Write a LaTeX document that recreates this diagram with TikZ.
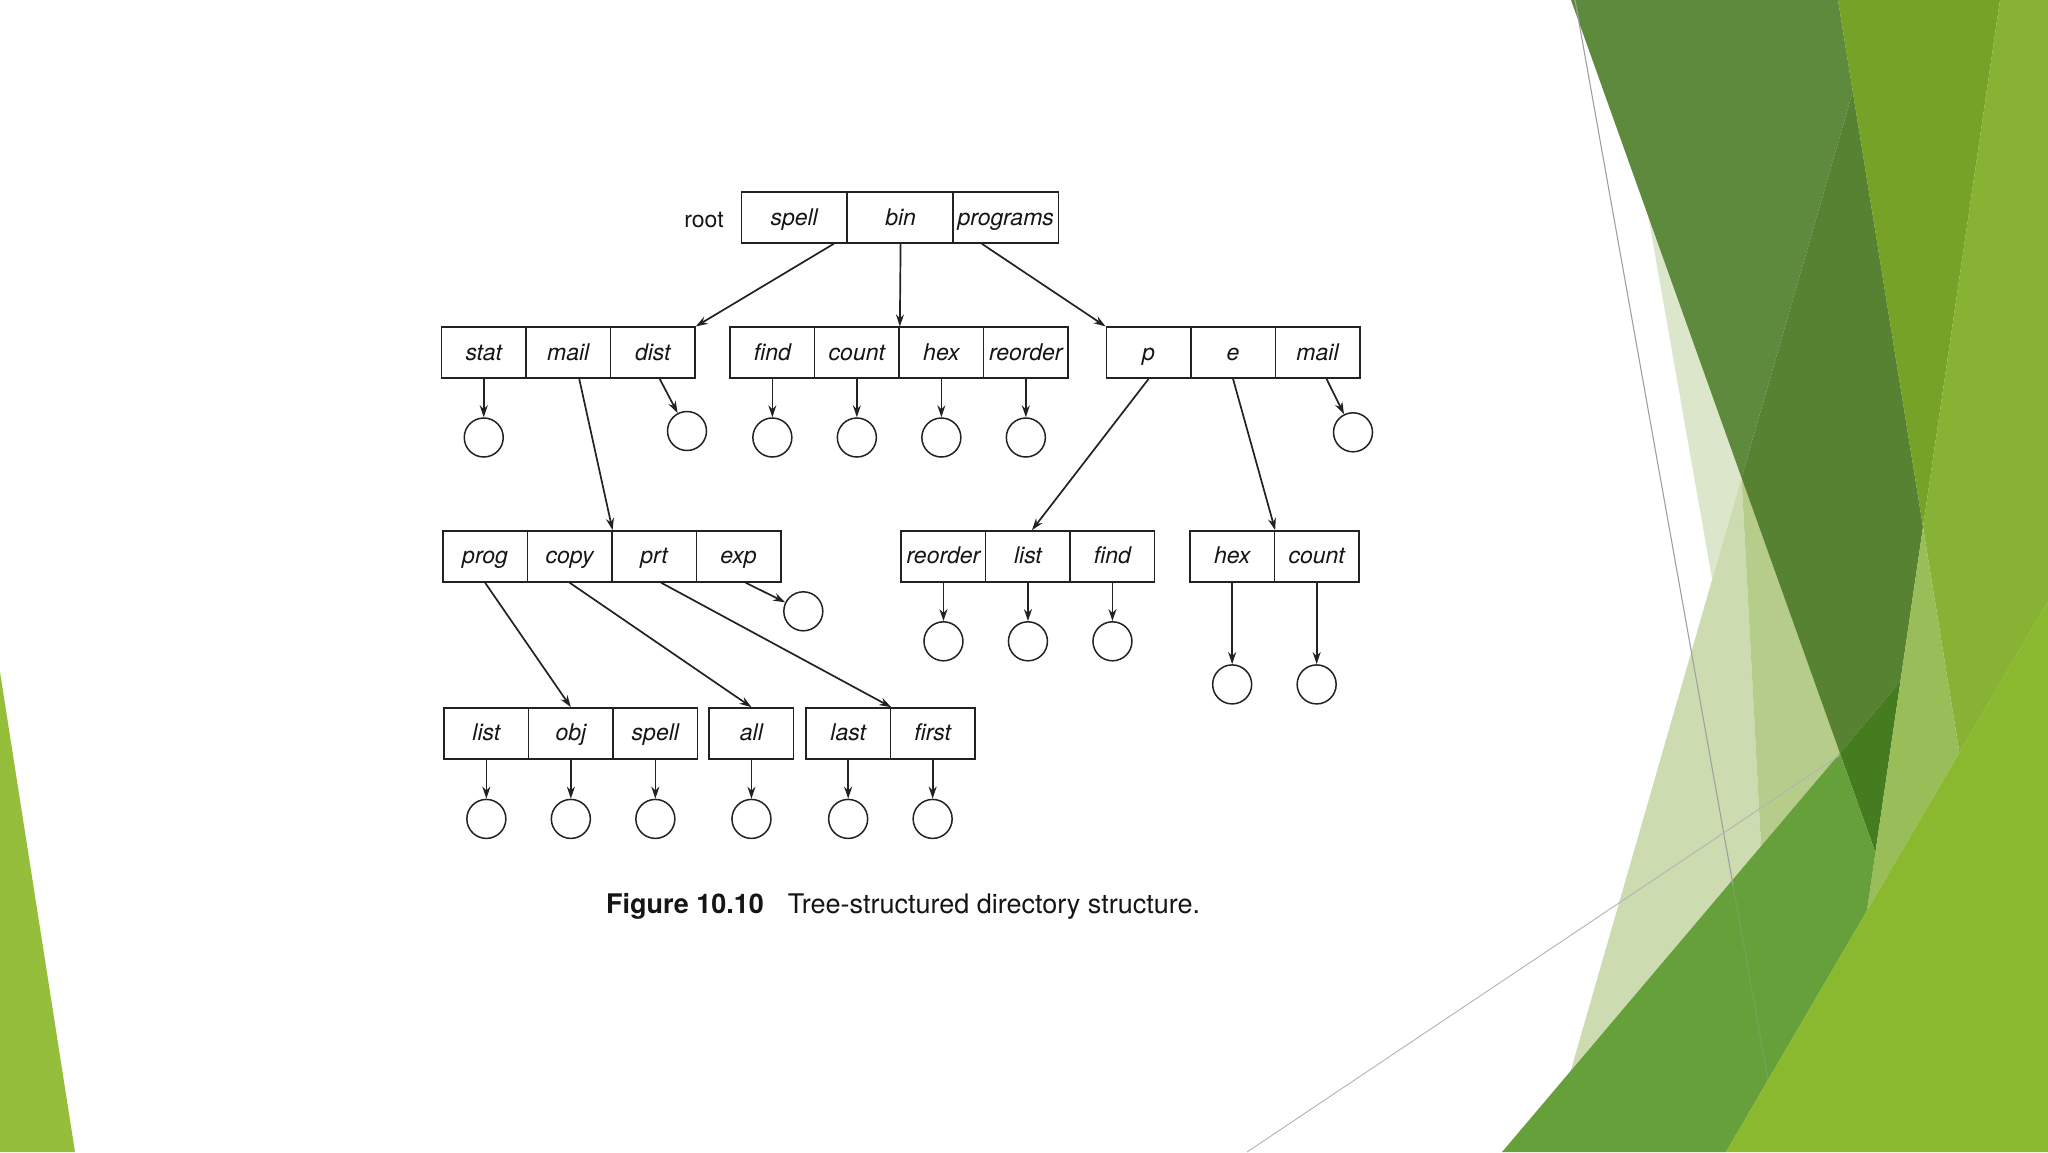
\documentclass[tikz,border=0pt]{standalone}
\usepackage{fontspec}
\setmainfont{TeX Gyre Heros}
\usetikzlibrary{arrows.meta}
\definecolor{linec}{HTML}{222222}
\definecolor{txt}{HTML}{151515}
\definecolor{gA}{HTML}{5E8A3E}
\definecolor{gB}{HTML}{568232}
\definecolor{gC}{HTML}{75A227}
\definecolor{gD}{HTML}{88B234}
\definecolor{gL}{HTML}{99BD58}
\definecolor{gG}{HTML}{66A03B}
\definecolor{gH}{HTML}{8AB82E}
\definecolor{gI}{HTML}{447C1F}
\definecolor{pS}{HTML}{DCE6CB}
\definecolor{pT}{HTML}{CDDBB1}
\definecolor{pM}{HTML}{B5CC8A}
\definecolor{gLeft}{HTML}{95BE3B}
\definecolor{hairc}{HTML}{A0A0A0}
\begin{document}
\begin{tikzpicture}[x=1pt,y=-1pt,
  cell/.style={draw=linec, line width=1.5pt, minimum height=51pt, minimum width=84.5pt,
    inner sep=0pt, text height=17.5pt, text depth=2.5pt,
    font=\fontsize{23}{26}\selectfont\itshape, text=txt},
  rcell/.style={cell, minimum width=105.8pt},
  leaf/.style={draw=linec, line width=1.5pt, circle, minimum size=39pt, inner sep=0pt},
  arr/.style={draw=linec, line width=1.7pt, -{Stealth[length=12pt,width=8pt]}},
  captxt/.style={anchor=base west, inner sep=0pt, text=txt}
]
\useasboundingbox (0,0) rectangle (2048,1152);
\fill[white] (0,0) rectangle (2048,1152);

% ---------- background facets ----------
\fill[gLeft] (0,672) -- (75,1152) -- (0,1152) -- cycle;

\fill[pS] (1648.3,216.6) -- (1712.2,579.5) -- (1741.5,477.7) -- cycle;
\fill[pT] (1741.5,477.7) -- (1570.7,1070.8) -- (1761,846.2) -- cycle;
\fill[pM] (1741.5,477.7) -- (1761,846.2) -- (1839.9,753.1) -- cycle;
\fill[gA] (1571,0) -- (1838,0) -- (1852.8,91.5) -- (1741.5,477.7) -- cycle;
\fill[gB] (1852.8,91.5) -- (1741.5,477.7) -- (1839.9,753.1) -- (1900.4,681.6) -- (1923,527) -- cycle;
\fill[gI] (1839.9,753.1) -- (1900.4,681.6) -- (1875.4,852.7) -- cycle;
\fill[gC] (1838,0) -- (2000,0) -- (1923,527) -- cycle;
\fill[gD] (2000,0) -- (2048,0) -- (2048,601.4) -- (1959.4,752.8) -- (1923,527) -- cycle;
\fill[gL] (1923,527) -- (1959.4,752.8) -- (1866.9,910.9) -- (1875.4,852.7) -- (1900.4,681.6) -- cycle;
\fill[gG] (1502,1152) -- (1839.9,753.1) -- (1875.4,852.7) -- (1866.9,910.9) -- (1725.9,1152) -- cycle;
\fill[gH] (2048,601.4) -- (2048,1152) -- (1725.9,1152) -- (1866.9,910.9) -- (1959.4,752.8) -- cycle;

\draw[draw=hairc, line width=1.1pt] (1575,0) -- (1733,885);
\draw[draw=hairc, opacity=0.3, line width=1.1pt] (1733,885) -- (1768,1080);
\draw[draw=hairc!80, line width=0.9pt] (1247,1152) -- (1840,755);

% ---------- root ----------
\node[font=\fontsize{23}{26}\selectfont, text=txt, anchor=base] (rootlbl) at (704,227) {root};
\node[rcell] (rspell) at (794.2,217.5) {spell};
\node[rcell] (rbin) at (900.6,217.5) {bin};
\node[rcell] (rprog) at (1005.8,217.5) {programs};

% ---------- level 2 ----------
\node[cell] (astat) at (483.75,352.7) {stat};
\node[cell] (amail) at (568.25,352.7) {mail};
\node[cell] (adist) at (652.75,352.7) {dist};
\node[cell] (bfind) at (772.35,352.7) {find};
\node[cell] (bcount) at (856.85,352.7) {count};
\node[cell] (bhex) at (941.35,352.7) {hex};
\node[cell] (breorder) at (1025.85,352.7) {reorder};
\node[cell] (cp) at (1148.55,352.7) {p};
\node[cell] (ce) at (1233.05,352.7) {e};
\node[cell] (cmail) at (1317.55,352.7) {mail};

\node[leaf] (l2stat) at (483.75,437.5) {};
\node[leaf] (l2dist) at (687,431) {};
\node[leaf] (l2find) at (772.35,437.5) {};
\node[leaf] (l2count) at (856.85,437.5) {};
\node[leaf] (l2hex) at (941.35,437.5) {};
\node[leaf] (l2reorder) at (1025.85,437.5) {};
\node[leaf] (l2mail) at (1353,432.3) {};

% ---------- level 3 ----------
\node[cell] (dprog) at (485.05,556.4) {prog};
\node[cell] (dcopy) at (569.55,556.4) {copy};
\node[cell] (dprt) at (654.05,556.4) {prt};
\node[cell] (dexp) at (738.55,556.4) {exp};
\node[cell] (ereorder) at (943.45,556.4) {reorder};
\node[cell] (elist) at (1027.95,556.4) {list};
\node[cell] (efind) at (1112.45,556.4) {find};
\node[cell] (fhex) at (1232.15,556.4) {hex};
\node[cell] (fcount) at (1316.65,556.4) {count};

\node[leaf] (l3exp) at (803.3,611.3) {};
\node[leaf] (l3reorder) at (943.45,641.3) {};
\node[leaf] (l3list) at (1027.95,641.3) {};
\node[leaf] (l3find) at (1112.45,641.3) {};
\node[leaf] (l3hex) at (1232.15,684.4) {};
\node[leaf] (l3count) at (1316.65,684.4) {};

% ---------- level 4 ----------
\node[cell] (glist) at (486.35,733.4) {list};
\node[cell] (gobj) at (570.85,733.4) {obj};
\node[cell] (gspell) at (655.35,733.4) {spell};
\node[cell] (hall) at (751.45,733.4) {all};
\node[cell] (ilast) at (848.15,733.4) {last};
\node[cell] (ifirst) at (932.65,733.4) {first};

\node[leaf] (l4list) at (486.35,818.9) {};
\node[leaf] (l4obj) at (570.85,818.9) {};
\node[leaf] (l4spell) at (655.35,818.9) {};
\node[leaf] (l4all) at (751.45,818.9) {};
\node[leaf] (l4last) at (848.15,818.9) {};
\node[leaf] (l4first) at (932.65,818.9) {};

% ---------- connectors ----------
\draw[arr] ([xshift=-14pt]rspell.south east) -- (adist.north east);
\draw[arr] (rbin.south) -- (bcount.north east);
\draw[arr] ([xshift=-24pt]rprog.south) -- (cp.north west);

\draw[arr] (astat.south) -- (l2stat.north);
\draw[arr] ([xshift=11pt]amail.south) -- (dcopy.north east);
\draw[arr] ([xshift=7pt]adist.south) -- (l2dist);
\draw[arr] (bfind.south) -- (l2find.north);
\draw[arr] (bcount.south) -- (l2count.north);
\draw[arr] (bhex.south) -- (l2hex.north);
\draw[arr] (breorder.south) -- (l2reorder.north);
\draw[arr] (cp.south) -- ([xshift=4pt]elist.north);
\draw[arr] (ce.south) -- (fhex.north east);
\draw[arr] ([xshift=9pt]cmail.south) -- (l2mail);

\draw[arr] (dprog.south) -- (gobj.north);
\draw[arr] (dcopy.south) -- (hall.north);
\draw[arr] ([xshift=7pt]dprt.south) -- (ilast.north east);
\draw[arr] ([xshift=7pt]dexp.south) -- (l3exp);
\draw[arr] (ereorder.south) -- (l3reorder.north);
\draw[arr] (elist.south) -- (l3list.north);
\draw[arr] (efind.south) -- (l3find.north);
\draw[arr] (fhex.south) -- (l3hex.north);
\draw[arr] (fcount.south) -- (l3count.north);

\draw[arr] (glist.south) -- (l4list.north);
\draw[arr] (gobj.south) -- (l4obj.north);
\draw[arr] (gspell.south) -- (l4spell.north);
\draw[arr] (hall.south) -- (l4all.north);
\draw[arr] (ilast.south) -- (l4last.north);
\draw[arr] (ifirst.south) -- (l4first.north);

% ---------- caption ----------
\node[captxt, font=\fontsize{27}{32}\selectfont\bfseries] (figlbl) at (606,913) {Figure 10.10};
\node[captxt, font=\fontsize{27}{32}\selectfont] (figcap) at (787.6,913) {Tree-structured directory structure.};
\end{tikzpicture}
\end{document}
